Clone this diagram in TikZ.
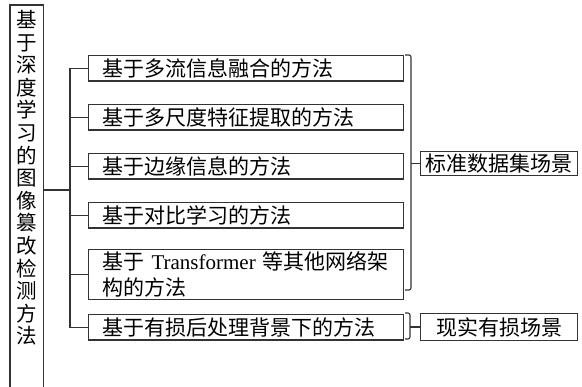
\documentclass[tikz,border=0pt]{standalone}
\usepackage{fontspec}
\setmainfont{Noto Sans CJK SC}
\newfontfamily\tnr{Liberation Serif}
\begin{document}
\begin{tikzpicture}[x=1pt,y=-1pt,
  ln/.style={draw=black!80, line width=1.1pt},
  mbox/.style={draw=black!80, line width=1.1pt, anchor=north west,
    text width=287pt, inner xsep=14pt, inner ysep=0pt, align=left,
    font=\fontsize{21}{26}\selectfont, minimum height=25.5pt},
  sbox/.style={draw=black!80, line width=1.1pt, anchor=north west,
    minimum width=157pt, inner sep=0pt, align=center,
    font=\fontsize{21}{26}\selectfont}]
\useasboundingbox (0,0) rectangle (582,387);
% left title frame
\node[minimum width=33pt, minimum height=383pt, anchor=north west, inner sep=0pt] (L) at (10,5) {};
\draw[ln] (L.south west) -- (L.north west) -- (L.north east) -- (L.south east);
\node[font=\fontsize{20.5}{22.6}\selectfont, align=center, inner sep=0pt, anchor=north] (title) at (26.5,10)
  {基\\于\\深\\度\\学\\习\\的\\图\\像\\篡\\改\\检\\测\\方\\法};
% method boxes
\node[mbox] (b1) at (88,55) {基于多流信息融合的方法};
\node[mbox] (b2) at (88,104) {基于多尺度特征提取的方法};
\node[mbox] (b3) at (88,153) {基于边缘信息的方法};
\node[mbox] (b4) at (88,202) {基于对比学习的方法};
\node[mbox, minimum height=50pt] (b5) at (88,249) {基于 {\tnr Transformer} 等其他网络架\\构的方法};
\node[mbox] (b6) at (88,314) {基于有损后处理背景下的方法};
% scene boxes
\node[sbox, minimum height=24pt] (s1) at (420,151) {标准数据集场景};
\node[sbox, minimum height=27pt] (s2) at (420,313) {现实有损场景};
% tree connectors
\coordinate (J) at (70,190);
\draw[ln] (L.east |- J) -- (J);
\draw[ln] (b1.west) -- (b1.west -| J) -- (b6.west -| J) -- (b6.west);
\foreach \b in {b2,b3,b4,b5} \draw[ln] (\b.west) -- (\b.west -| J);
% brackets
\coordinate (u1) at (405,55);
\coordinate (u2) at (405,290);
\draw[ln, rounded corners=2pt] (u1) -| (411,172) |- (u2);
\draw[ln] (s1.west -| 411,0) -- (s1.west);
\coordinate (v1) at (405,313);
\coordinate (v2) at (405,339);
\draw[ln, rounded corners=2pt] (v1) -| (410,326) |- (v2);
\draw[ln] (s2.west -| 410,0) -- (s2.west);
\end{tikzpicture}
\end{document}
